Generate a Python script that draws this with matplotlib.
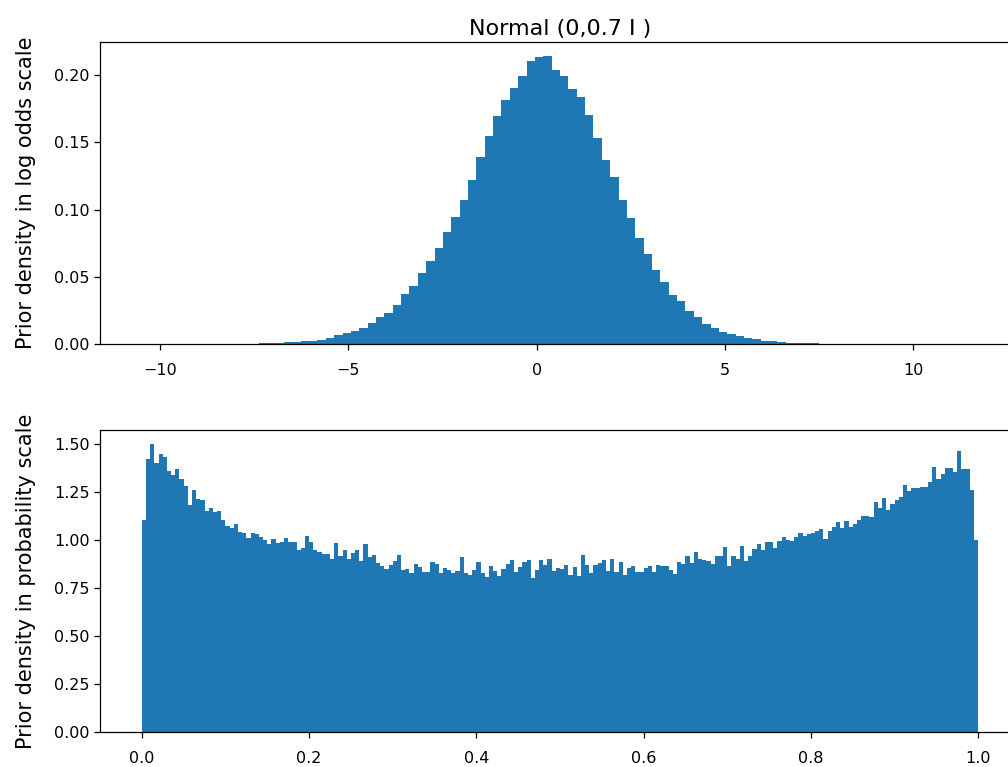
# Prior on log odds vs. implied prior on probabilities
import numpy as np
import matplotlib
matplotlib.use("Agg")
import matplotlib.pyplot as plt
from matplotlib.ticker import MultipleLocator

# Global style
plt.rcParams.update({
    "font.size": 11,
    "axes.labelsize": 15,
    "axes.titlesize": 16,
    "xtick.labelsize": 11.5,
    "ytick.labelsize": 11.5,
    "axes.linewidth": 0.9,
})

# Log odds histogram (100 bins, density)
logodds_lo, logodds_hi = -10.49, 11.73
logodds_density = [
    0.0001, 0.0001, 0.0001, 0.0001, 0.0001, 0.0001, 0.0001, 0.0001, 0.0001, 0.0002,
    0.0002, 0.0002, 0.0003, 0.0003, 0.0005, 0.0005, 0.0006, 0.0012, 0.0016, 0.0021,
    0.0024, 0.0030, 0.0045, 0.0067, 0.0082, 0.0097, 0.0119, 0.0156, 0.0201, 0.0230,
    0.0290, 0.0371, 0.0431, 0.0527, 0.0617, 0.0713, 0.0832, 0.0944, 0.1070, 0.1218,
    0.1389, 0.1545, 0.1694, 0.1813, 0.1902, 0.1991, 0.2103, 0.2132, 0.2140, 0.2036,
    0.1991, 0.1895, 0.1835, 0.1701, 0.1530, 0.1367, 0.1241, 0.1070, 0.0936, 0.0788,
    0.0669, 0.0550, 0.0461, 0.0364, 0.0319, 0.0245, 0.0201, 0.0149, 0.0119, 0.0089,
    0.0074, 0.0059, 0.0045, 0.0037, 0.0022, 0.0022, 0.0015, 0.0008, 0.0007, 0.0004,
    0.0004, 0.0003, 0.0002, 0.0002, 0.0002, 0.0002, 0.0001, 0.0001, 0.0001, 0.0001,
    0.0001, 0.0001, 0.0001, 0.0001, 0.0001, 0.0001, 0.0001, 0.0001, 0.0001, 0.0001,
]

# Probability histogram (200 bins, density)
prob_lo, prob_hi = 0.0, 1.0
prob_density = [
    1.104, 1.422, 1.500, 1.401, 1.448, 1.432, 1.359, 1.339, 1.370, 1.318,
    1.281, 1.182, 1.260, 1.214, 1.208, 1.151, 1.167, 1.146, 1.151, 1.104,
    1.073, 1.063, 1.083, 1.042, 1.036, 1.010, 1.036, 1.031, 1.016, 1.000,
    0.979, 1.005, 0.984, 0.990, 1.010, 0.990, 0.990, 0.948, 0.958, 1.021,
    0.990, 0.948, 0.938, 0.927, 0.927, 0.901, 0.984, 0.917, 0.948, 0.901,
    0.932, 0.948, 0.891, 0.979, 0.911, 0.922, 0.880, 0.865, 0.849, 0.870,
    0.891, 0.922, 0.844, 0.849, 0.828, 0.875, 0.859, 0.833, 0.833, 0.885,
    0.875, 0.828, 0.854, 0.844, 0.828, 0.839, 0.911, 0.828, 0.818, 0.844,
    0.885, 0.828, 0.807, 0.865, 0.839, 0.813, 0.849, 0.875, 0.896, 0.833,
    0.859, 0.885, 0.896, 0.802, 0.844, 0.896, 0.870, 0.901, 0.839, 0.854,
    0.849, 0.870, 0.818, 0.859, 0.813, 0.922, 0.870, 0.828, 0.870, 0.880,
    0.896, 0.839, 0.901, 0.833, 0.885, 0.818, 0.854, 0.865, 0.833, 0.833,
    0.854, 0.865, 0.833, 0.870, 0.865, 0.865, 0.844, 0.823, 0.885, 0.875,
    0.917, 0.880, 0.938, 0.901, 0.896, 0.891, 0.875, 0.917, 0.917, 0.964,
    0.865, 0.917, 0.901, 0.969, 0.891, 0.917, 0.953, 0.979, 0.948, 0.990,
    0.990, 0.958, 0.995, 1.016, 1.000, 0.995, 1.016, 1.036, 1.021, 1.031,
    1.036, 1.047, 1.057, 1.005, 1.047, 1.068, 1.094, 1.063, 1.099, 1.068,
    1.083, 1.104, 1.125, 1.125, 1.120, 1.198, 1.167, 1.219, 1.156, 1.188,
    1.208, 1.224, 1.286, 1.255, 1.271, 1.271, 1.276, 1.276, 1.302, 1.380,
    1.318, 1.344, 1.375, 1.375, 1.354, 1.464, 1.370, 1.370, 1.260, 1.000,
]

logodds_edges = np.linspace(logodds_lo, logodds_hi, len(logodds_density) + 1)
prob_edges = np.linspace(prob_lo, prob_hi, len(prob_density) + 1)

# Figure (axes run past the right edge, as in the original crop)
W, H = 1008, 767
fig = plt.figure(figsize=(W / 100, H / 100), dpi=100)
ax1 = fig.add_axes([100 / W, (H - 344) / H, 920 / W, 302 / H])
ax2 = fig.add_axes([100 / W, (H - 732) / H, 920 / W, 302 / H])

# Top: log odds scale
ax1.hist(logodds_edges[:-1], bins=logodds_edges, weights=logodds_density,
         color="#1f77b4")
ax1.set_title("Normal (0,0.7 I )", pad=5)
ax1.set_ylabel("Prior density in log odds scale", labelpad=13)
ax1.xaxis.set_major_locator(MultipleLocator(5))
ax1.yaxis.set_major_locator(MultipleLocator(0.05))
ax1.yaxis.set_major_formatter(lambda v, p: f"{v:.2f}")

# Bottom: probability scale
ax2.hist(prob_edges[:-1], bins=prob_edges, weights=prob_density,
         color="#1f77b4")
ax2.set_ylabel("Prior density in probability scale", labelpad=13)
ax2.xaxis.set_major_locator(MultipleLocator(0.2))
ax2.yaxis.set_major_locator(MultipleLocator(0.25))
ax2.yaxis.set_major_formatter(lambda v, p: f"{v:.2f}")

for ax in (ax1, ax2):
    ax.tick_params(length=4, width=0.9)
    ax.tick_params(axis="x", pad=9.5)

fig.savefig("out.png", dpi=100)
plt.close()
